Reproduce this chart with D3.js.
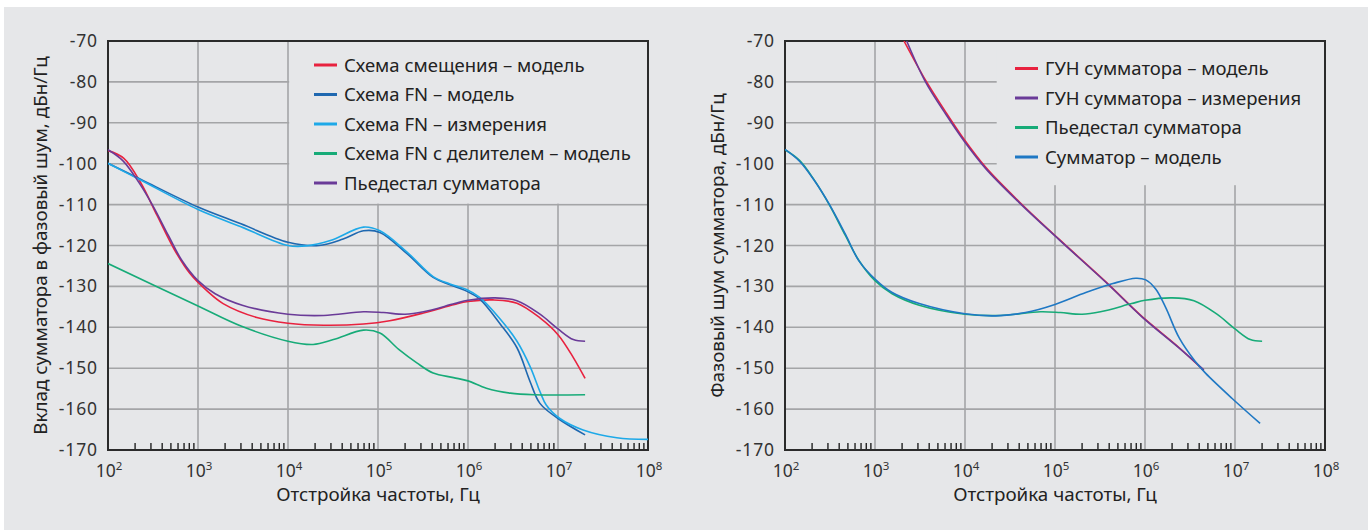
<!DOCTYPE html>
<html>
<head>
<meta charset="utf-8">
<script src="https://d3js.org/d3.v7.min.js"></script>
<style>
  body { margin: 0; background: #fff; }
  svg { display: block; font-family: "Noto Sans", sans-serif; }
</style>
</head>
<body>
<div id="chart"></div>
<script>
// ---- data: [frequency offset, Hz ; phase noise, dBc/Hz] ----
const yTicks = [-70, -80, -90, -100, -110, -120, -130, -140, -150, -160, -170];
const decades = [1e2, 1e3, 1e4, 1e5, 1e6, 1e7, 1e8];

const biasModel = [
    [1e2, -96.8], [1.5e2, -98.7], [2.3e2, -104.6], [3.5e2, -112.6], [5.4e2, -120.8],
    [8.1e2, -126.8], [1.26e3, -131.1], [1.9e3, -134.2], [4.5e3, -137.6], [1e4, -139],
    [2.5e4, -139.5], [6.9e4, -139.2], [1.35e5, -138.4], [3.2e5, -136.5], [7.1e5, -134.4],
    [1e6, -133.7], [1.9e6, -133.3], [3.5e6, -134.1], [6.3e6, -137.7], [1e7, -141.8],
    [1.48e7, -147.4], [2e7, -152.5]
];
const fnModel = [
    [1e2, -99.9], [2.3e2, -103.8], [1e3, -110.6], [3e3, -114.7], [1e4, -119.2],
    [2.2e4, -120], [4.1e4, -118.4], [6.9e4, -116.4], [1.05e5, -116.8], [2.1e5, -122],
    [4.1e5, -127.8], [6.3e5, -129.6], [9.5e5, -131.1], [1.35e6, -133.1], [2.3e6, -139.3],
    [3.5e6, -145], [4.9e6, -153.3], [6.3e6, -158.6], [1e7, -162.3], [2e7, -166.3]
];
const fnMeas = [
    [1e2, -99.9], [2.3e2, -104], [1e3, -111.2], [3e3, -115.4], [1e4, -120],
    [1.6e4, -120.1], [2.95e4, -118.8], [6.9e4, -115.5], [1.05e5, -116.4], [2.1e5, -121.6],
    [4.1e5, -127.6], [6.3e5, -129.4], [9.5e5, -130.7], [1.35e6, -132.7], [2.3e6, -138.1],
    [3.5e6, -143.4], [4.9e6, -149.6], [6.3e6, -155.7], [7.4e6, -159], [1.05e7, -162.3],
    [1.9e7, -165.1], [4.5e7, -167], [1e8, -167.4]
];
const fnDivider = [
    [1e2, -124.4], [1e3, -134.8], [3e3, -139.7], [1e4, -143.4], [1.9e4, -144.2],
    [3.2e4, -143], [6.9e4, -140.7], [1.05e5, -141.4], [1.7e5, -145.4], [2.7e5, -148.7],
    [4.1e5, -151.2], [6.9e5, -152.3], [1e6, -153.1], [1.6e6, -154.9], [2.95e6, -156.1],
    [5.4e6, -156.5], [2e7, -156.5]
];
const pedestal = [
    [1e2, -96.6], [1.45e2, -99.2], [2.1e2, -103.9], [3.1e2, -110], [4.7e2, -117.6],
    [6.6e2, -123.6], [1e3, -128.6], [1.55e3, -131.8], [3.1e3, -134.6], [1e4, -136.8],
    [2.5e4, -137.1], [6.9e4, -136.2], [1.15e5, -136.4], [2e5, -136.8], [3.2e5, -136.2],
    [7.1e5, -134.2], [1e6, -133.4], [2e6, -132.8], [3.5e6, -133.5], [6.3e6, -136.8],
    [1e7, -140.4], [1.48e7, -143], [2e7, -143.4]
];
const vcoModel = [
    [2.1e3, -70], [3.6e3, -79.4], [6.2e3, -87.6], [9.8e3, -94.1], [1.7e4, -100.9],
    [4e4, -109.3], [1.1e5, -118.4], [3.8e5, -129.2], [9.3e5, -137.4], [2.4e6, -145],
    [4.5e6, -150.6]
];
const vcoMeas = [
    [2.25e3, -70], [3.6e3, -79.8], [6.2e3, -88.1], [9.8e3, -94.5], [1.7e4, -101.2],
    [4e4, -109.5], [1.1e5, -118.5], [3.8e5, -129.3], [9.3e5, -137.5], [2.4e6, -145.1],
    [4.5e6, -150.4]
];
const summatorModel = [
    [1e2, -96.5], [1.45e2, -99.4], [2.1e2, -104], [3.1e2, -109.9], [4.7e2, -117.3],
    [6.6e2, -123.7], [1e3, -128.2], [1.55e3, -131.5], [3.1e3, -134.2], [1e4, -136.7],
    [2.2e4, -137.2], [4.7e4, -136.4], [1e5, -134.4], [2.2e5, -131.5], [4.4e5, -129.3],
    [7.9e5, -128], [1.02e6, -128.4], [1.32e6, -130.7], [1.7e6, -135.2], [2.4e6, -142.6],
    [3.6e6, -148.3], [4.7e6, -151.2], [9.3e6, -157.4], [1.9e7, -163.5]
];

const leftSeries = [
    { name: "Схема смещения – модель", color: "#e8223f", data: biasModel },
    { name: "Схема FN – модель", color: "#1f68b0", data: fnModel },
    { name: "Схема FN – измерения", color: "#1ea9e8", data: fnMeas },
    { name: "Схема FN с делителем – модель", color: "#17ab78", data: fnDivider },
    { name: "Пьедестал сумматора", color: "#6a3b98", data: pedestal }
];
const rightSeries = [
    { name: "ГУН сумматора – модель", color: "#e8223f", data: vcoModel },
    { name: "ГУН сумматора – измерения", color: "#6a3b98", data: vcoMeas },
    { name: "Пьедестал сумматора", color: "#17ab78", data: pedestal },
    { name: "Сумматор – модель", color: "#1f78c4", data: summatorModel }
];

PhaseChart = function(_svg, opts) {
    this.svg = _svg;
    this.opts = opts;
    this.initVis();
};

PhaseChart.prototype.initVis = function() {
    let vis = this;
    let o = vis.opts;

    vis.g = vis.svg.append("g");

    vis.x = d3.scaleLog().domain([1e2, 1e8]).range([o.left, o.left + 540]);
    vis.y = d3.scaleLinear().domain([-170, -70]).range([450, 41]);

    // grid
    vis.g.selectAll(".hgrid").data(yTicks.slice(1, -1)).enter()
        .append("line")
        .attr("x1", vis.x(1e2)).attr("x2", vis.x(1e8))
        .attr("y1", d => vis.y(d)).attr("y2", d => vis.y(d))
        .attr("stroke", "#a4a5a7").attr("stroke-width", 1.6);
    vis.g.selectAll(".vgrid").data(decades.slice(1, -1)).enter()
        .append("line")
        .attr("x1", d => vis.x(d)).attr("x2", d => vis.x(d))
        .attr("y1", vis.y(-70)).attr("y2", vis.y(-170))
        .attr("stroke", "#a4a5a7").attr("stroke-width", 1.6);

    // legend area hides the grid
    vis.g.append("rect")
        .attr("x", vis.x(o.boxF))
        .attr("y", vis.y(-70))
        .attr("width", vis.x(1e8) - vis.x(o.boxF))
        .attr("height", vis.y(o.boxDb) - vis.y(-70) - 1)
        .attr("fill", "#e6e7e9");

    // minor ticks
    let minor = [];
    decades.slice(0, -1).forEach(d => { for (let m = 2; m <= 9; m++) minor.push(d * m); });
    vis.g.selectAll(".minor").data(minor).enter()
        .append("line")
        .attr("x1", d => vis.x(d)).attr("x2", d => vis.x(d))
        .attr("y1", vis.y(-170)).attr("y2", vis.y(-170) - 7)
        .attr("stroke", "#222").attr("stroke-width", 1.4);

    // frame
    vis.g.append("rect")
        .attr("x", vis.x(1e2)).attr("y", vis.y(-70))
        .attr("width", vis.x(1e8) - vis.x(1e2))
        .attr("height", vis.y(-170) - vis.y(-70))
        .attr("fill", "none").attr("stroke", "#2b2b2b").attr("stroke-width", 2);

    // y tick labels
    vis.g.selectAll(".ylab").data(yTicks).enter()
        .append("text")
        .attr("x", vis.x(1e2) - 10)
        .attr("y", d => vis.y(d) + 6)
        .attr("text-anchor", "end")
        .attr("font-size", "17.5px")
        .attr("letter-spacing", "0.9px")
        .attr("fill", "#333")
        .text(d => d);

    // x tick labels
    let xl = vis.g.selectAll(".xlab").data(decades).enter()
        .append("text")
        .attr("x", d => vis.x(d) + 1)
        .attr("y", 477)
        .attr("text-anchor", "middle")
        .attr("font-size", "17.5px")
        .attr("fill", "#333");
    xl.append("tspan").text("10");
    xl.append("tspan").attr("font-size", "11.5px").attr("dy", -7)
        .text(d => Math.round(Math.log10(d)));

    // axis titles
    vis.g.append("text")
        .attr("x", vis.x(1e5)).attr("y", 501)
        .attr("text-anchor", "middle").attr("font-size", "18.8px").attr("fill", "#222")
        .text("Отстройка частоты, Гц");
    vis.g.append("text")
        .attr("transform", `translate(${o.left - 61},${(vis.y(-70) + vis.y(-170)) / 2}) rotate(-90)`)
        .attr("text-anchor", "middle").attr("font-size", "18.8px").attr("fill", "#222")
        .text(o.yTitle);

    // lines
    vis.svg.append("clipPath").attr("id", "clip" + o.id)
        .append("rect")
        .attr("x", vis.x(1e2)).attr("y", vis.y(-70))
        .attr("width", vis.x(1e8) - vis.x(1e2)).attr("height", vis.y(-170) - vis.y(-70));

    vis.line = d3.line()
        .x(d => vis.x(d[0]))
        .y(d => vis.y(d[1]))
        .curve(d3.curveCatmullRom.alpha(0.5));

    vis.g.append("g").attr("clip-path", `url(#clip${o.id})`)
        .selectAll("path").data(o.series).enter()
        .append("path")
        .attr("d", d => vis.line(d.data))
        .attr("fill", "none")
        .attr("stroke", d => d.color)
        .attr("stroke-width", 1.6);

    // legend
    let leg = vis.g.selectAll(".leg").data(o.series).enter()
        .append("g")
        .attr("transform", (d, i) => `translate(${o.left + o.legendDx},${o.legendY + i * 29.5})`);
    leg.append("line")
        .attr("x1", 0).attr("x2", 23)
        .attr("stroke", d => d.color).attr("stroke-width", 3);
    leg.append("text")
        .attr("x", 30).attr("y", 6.5)
        .attr("font-size", "18.5px").attr("fill", "#222")
        .text(d => d.name);
};

let svg = d3.select("#chart").append("svg")
    .attr("width", 1368).attr("height", 530);
svg.append("rect")
    .attr("x", 4).attr("y", 7).attr("width", 1364).attr("height", 523)
    .attr("fill", "#e6e7e9");

new PhaseChart(svg, {
    id: "L", left: 108, series: leftSeries,
    boxF: 1.03e4, boxDb: -110,
    legendDx: 206, legendY: 65,
    yTitle: "Вклад сумматора в фазовый шум, дБн/Гц"
});
new PhaseChart(svg, {
    id: "R", left: 785, series: rightSeries,
    boxF: 2.25e4, boxDb: -105.5,
    legendDx: 230, legendY: 68.5,
    yTitle: "Фазовый шум сумматора, дБн/Гц"
});
</script>
</body>
</html>
